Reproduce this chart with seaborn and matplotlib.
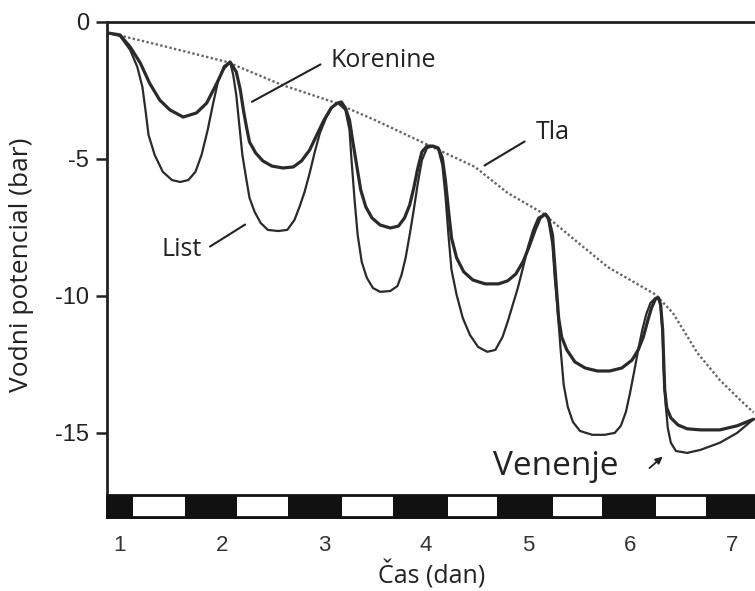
import numpy as np
import pandas as pd
import matplotlib
matplotlib.use("Agg")
import matplotlib.pyplot as plt
import seaborn as sns

# ---- data ----
tla_x = [0.90, 1.46, 2.05, 2.59, 3.09, 3.50, 4.06, 4.48, 4.80, 5.14, 5.46, 5.78, 6.25,
         6.42, 6.66, 6.88, 7.08, 7.21]
tla_y = [-0.40, -0.91, -1.46, -2.30, -2.92, -3.58, -4.56, -5.29, -6.24, -6.97, -7.96, -8.94, -9.95,
         -10.62, -12.08, -13.07, -13.80, -14.25]

koren_x = [0.88, 1.00, 1.10, 1.20, 1.29, 1.39, 1.49, 1.62, 1.75, 1.85, 1.95, 2.02, 2.08,
           2.14, 2.18, 2.21, 2.24, 2.27, 2.33, 2.40, 2.49, 2.60, 2.70, 2.78, 2.86, 2.93, 3.00, 3.07, 3.13, 3.17,
           3.21, 3.25, 3.28, 3.32, 3.36, 3.41, 3.47, 3.55, 3.65, 3.73, 3.79, 3.84, 3.88, 3.92, 3.96, 4.01, 4.07,
           4.12, 4.16, 4.19, 4.22, 4.25, 4.30, 4.37, 4.46, 4.58, 4.71, 4.80, 4.88, 4.95, 5.01, 5.07, 5.12, 5.17,
           5.20, 5.24, 5.26, 5.28, 5.30, 5.33, 5.38, 5.46, 5.56, 5.68, 5.80, 5.92, 6.02, 6.08, 6.13, 6.17, 6.21, 6.25, 6.28,
           6.30, 6.32, 6.33, 6.34, 6.36, 6.40, 6.47, 6.56, 6.69, 6.88, 7.05, 7.21]
koren_y = [-0.40, -0.47, -0.91, -1.50, -2.23, -2.85, -3.21, -3.47, -3.32, -2.96, -2.23, -1.68, -1.46,
           -1.82, -2.48, -3.21, -3.83, -4.38, -4.78, -5.07, -5.26, -5.33, -5.29, -5.07, -4.67, -4.12, -3.58, -3.14, -2.96, -2.92,
           -3.14, -3.58, -4.31, -5.22, -6.13, -6.75, -7.15, -7.41, -7.52, -7.45, -7.15, -6.68, -6.06, -5.33, -4.74, -4.53, -4.53,
           -4.60, -4.96, -5.77, -6.86, -7.88, -8.61, -9.12, -9.42, -9.56, -9.56, -9.45, -9.20, -8.76, -8.21, -7.59, -7.15, -7.01,
           -7.15, -7.77, -8.76, -9.78, -10.80, -11.50, -11.97, -12.41, -12.63, -12.74, -12.74, -12.63, -12.34, -11.97, -11.50, -10.95, -10.44, -10.11, -10.07,
           -10.33, -11.24, -12.34, -13.43, -14.09, -14.45, -14.71, -14.85, -14.89, -14.89, -14.74, -14.50]

list_x = [0.88, 1.00, 1.10, 1.17, 1.22, 1.25, 1.28, 1.34, 1.42, 1.51, 1.59, 1.67, 1.74, 1.80, 1.86, 1.91, 1.96, 2.02, 2.08,
          2.11, 2.14, 2.17, 2.20, 2.24, 2.27, 2.32, 2.38, 2.45, 2.55, 2.64, 2.71, 2.76, 2.81, 2.86, 2.91, 2.96, 3.02, 3.08, 3.14,
          3.21, 3.25, 3.27, 3.30, 3.33, 3.37, 3.42, 3.48, 3.55, 3.65, 3.72, 3.76, 3.80, 3.84, 3.88, 3.92, 3.96, 4.01, 4.07,
          4.12, 4.16, 4.19, 4.22, 4.25, 4.30, 4.36, 4.43, 4.51, 4.60, 4.68, 4.75, 4.80, 4.85, 4.90, 4.95, 5.00, 5.05, 5.10, 5.17,
          5.20, 5.24, 5.26, 5.29, 5.32, 5.35, 5.39, 5.44, 5.51, 5.63, 5.75, 5.85, 5.91, 5.96, 6.00, 6.04, 6.08, 6.12, 6.16, 6.20, 6.25, 6.28,
          6.30, 6.32, 6.33, 6.35, 6.37, 6.40, 6.45, 6.56, 6.69, 6.88, 7.05, 7.21]
list_y = [-0.40, -0.51, -1.02, -1.64, -2.37, -3.21, -4.12, -4.85, -5.47, -5.77, -5.84, -5.77, -5.47, -4.85, -3.94, -3.03, -2.19, -1.61, -1.46,
          -1.93, -2.66, -3.76, -4.85, -5.77, -6.42, -6.93, -7.34, -7.59, -7.63, -7.59, -7.23, -6.75, -6.20, -5.51, -4.74, -4.05, -3.50, -3.10, -2.96,
          -3.21, -3.94, -5.04, -6.50, -7.77, -8.76, -9.34, -9.71, -9.85, -9.82, -9.64, -9.23, -8.61, -7.77, -6.86, -5.88, -5.04, -4.60, -4.53,
          -4.64, -5.22, -6.31, -7.77, -9.05, -9.96, -10.80, -11.42, -11.86, -12.04, -11.97, -11.50, -10.95, -10.33, -9.71, -8.98, -8.21, -7.59, -7.15, -7.01,
          -7.23, -8.14, -9.23, -10.51, -11.97, -13.25, -14.05, -14.60, -14.93, -15.07, -15.07, -15.00, -14.74, -14.23, -13.54, -12.77, -11.97, -11.24, -10.66, -10.26, -10.07, -10.07,
          -10.33, -11.42, -12.70, -13.98, -14.82, -15.36, -15.66, -15.73, -15.62, -15.36, -15.00, -14.50]

night_start = [0.87, 1.64, 2.65, 3.68, 4.70, 5.73, 6.74]
night_end = [1.13, 2.15, 3.18, 4.22, 5.24, 6.25, 7.23]

x_ticks = [1, 2, 3, 4, 5, 6, 7]
y_ticks = [0, -5, -10, -15]

# ---- figure ----
sns.set_style("white")
plt.rcParams['font.family'] = ['Open Sans', 'DejaVu Sans']

fig = plt.figure(figsize=(7.55, 5.91), dpi=100)
ax = fig.add_axes([107 / 755, 1 - 517 / 591, 1 - 107 / 755, (517 - 22) / 591])

line_col = "#2a2a2a"
sns.lineplot(x=tla_x, y=tla_y, ax=ax, sort=False, estimator=None,
             color="#666666", linestyle=(0, (1, 1.0)), linewidth=1.7)
sns.lineplot(x=list_x, y=list_y, ax=ax, sort=False, estimator=None,
             color=line_col, linewidth=1.6)
sns.lineplot(x=koren_x, y=koren_y, ax=ax, sort=False, estimator=None,
             color=line_col, linewidth=2.3)
for ln in ax.lines:
    ln.set_solid_joinstyle("round")
    ln.set_solid_capstyle("round")

ax.set_xlim(0.873, 7.225)
ax.set_ylim(-18.07, 0)

# day/night bar
bar_lo, bar_h = -18.07, 0.80
ax.broken_barh([(0.873, 7.225 - 0.873)], (bar_lo, bar_h), facecolors="white",
               edgecolors="#111111", linewidth=2.0, zorder=3, clip_on=False)
ax.broken_barh([(s, e - s) for s, e in zip(night_start, night_end)], (bar_lo, bar_h),
               facecolors="#111111", edgecolors="none", zorder=4)

# spines
ax.spines["right"].set_visible(False)
for side in ["left", "top", "bottom"]:
    ax.spines[side].set_color("#222222")
    ax.spines[side].set_linewidth(2.0)

ax.set_xticks(x_ticks)
ax.set_xticklabels([str(t) for t in x_ticks], family=['Liberation Sans'])
ax.set_yticks(y_ticks)
ax.set_yticklabels([str(t) for t in y_ticks], family=['Liberation Sans'])
ax.tick_params(axis="x", length=0, pad=13, labelsize=16, colors="#333333")
ax.tick_params(axis="y", length=8, width=1.8, direction="out", pad=5, labelsize=17,
               colors="#222222", left=True)

ax.set_xlabel("Čas (dan)", fontsize=18, color="#222222")
ax.set_ylabel("Vodni potencial (bar)", fontsize=19, color="#222222")
ax.xaxis.label.set_va("center")
ax.yaxis.label.set_va("center")
ax.xaxis.set_label_coords((432 - 107) / (755 - 107), -(575 - 517) / (517 - 22))
ax.yaxis.set_label_coords(-(107 - 22) / (755 - 107), (517 - 265) / (517 - 22))

# annotations
txt = dict(fontsize=18, color="#222222")
ax.annotate("", xy=(2.27, -2.96), xytext=(2.99, -1.50),
            arrowprops=dict(arrowstyle="-", color="#222222", lw=1.5))
ax.text(3.06, -1.39, "Korenine", ha="left", va="center", **txt)
ax.annotate("", xy=(4.55, -5.29), xytext=(4.99, -4.31),
            arrowprops=dict(arrowstyle="-", color="#222222", lw=1.5))
ax.text(5.08, -4.05, "Tla", ha="left", va="center", **txt)
ax.annotate("", xy=(2.25, -7.34), xytext=(1.86, -8.25),
            arrowprops=dict(arrowstyle="-", color="#222222", lw=1.5))
ax.text(1.80, -8.32, "List", ha="right", va="center", **txt)
ax.text(4.66, -16.24, "Venenje", ha="left", va="center", fontsize=24, color="#222222")
ax.annotate("", xy=(6.34, -15.80), xytext=(6.17, -16.35),
            arrowprops=dict(arrowstyle="-|>", color="#222222", lw=1.3, mutation_scale=10))

fig.savefig("out.png", dpi=100)
